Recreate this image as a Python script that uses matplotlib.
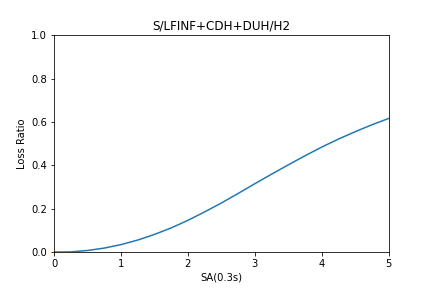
import matplotlib
matplotlib.use("Agg")
import matplotlib.pyplot as plt

# 数据
sa = [0.0, 0.25, 0.5, 0.75, 1.0, 1.25, 1.5, 1.75, 2.0, 2.25, 2.5,
      2.75, 3.0, 3.25, 3.5, 3.75, 4.0, 4.25, 4.5, 4.75, 5.0]
loss_ratio = [0.0, 0.0005, 0.007, 0.018, 0.034, 0.055, 0.081, 0.111, 0.146, 0.185, 0.226,
              0.270, 0.315, 0.359, 0.402, 0.444, 0.484, 0.521, 0.555, 0.587, 0.616]

fig, ax = plt.subplots(figsize=(6, 4), dpi=72)
fig.subplots_adjust(left=0.125, right=0.9, bottom=0.125, top=0.878)

ax.plot(sa, loss_ratio, color="#1f77b4")

ax.set_xlim(0, 5)
ax.set_ylim(0, 1.0)
ax.set_xlabel("SA(0.3s)")
ax.set_ylabel("Loss Ratio")
ax.set_title("S/LFINF+CDH+DUH/H2")

plt.savefig("out.png", dpi=72)
